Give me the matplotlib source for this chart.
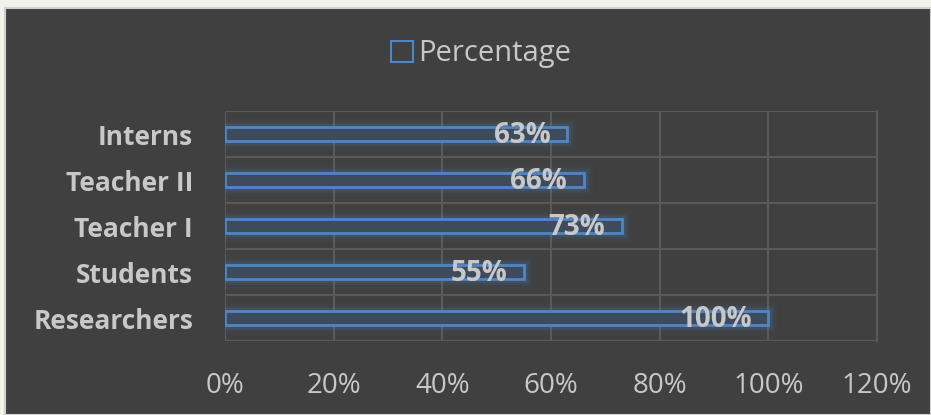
import matplotlib.pyplot as plt
from matplotlib.patches import Patch
from matplotlib.ticker import FuncFormatter

categories = ['Researchers', 'Students', 'Teacher I', 'Teacher II', 'Interns']
values = [100, 55, 73, 66, 63]
xticks = [0, 20, 40, 60, 80, 100, 120]

bg = '#404040'
grid = '#5a5a5a'
text_col = '#c8c8c8'
blue = '#4f86c6'

fig = plt.figure(figsize=(9.31, 4.15), dpi=100, facecolor='#f2f1ea')
# dark chart area with thin light border
fig.patches.append(plt.Rectangle((5 / 931, 0), 926 / 931, 1 - 8 / 415,
                                 transform=fig.transFigure, facecolor=bg,
                                 edgecolor='#d0d0d0', linewidth=1.5, zorder=-5))

ax = fig.add_axes([225 / 931, (415 - 341) / 415, (877 - 225) / 931, (341 - 111) / 415])
ax.patch.set_alpha(0)

y = range(len(categories))
# glow
for lw, a in [(12, 0.05), (8, 0.08), (5, 0.12)]:
    ax.barh(y, values, height=0.3, facecolor='none', edgecolor=blue,
            linewidth=lw, alpha=a, zorder=2)
ax.barh(y, values, height=0.3, facecolor='#3e4b5c', edgecolor=blue,
        linewidth=2, zorder=3)

for i, v in enumerate(values):
    ax.annotate(f'{v}%', (v, i), xytext=(-12, -1), textcoords='offset points',
                ha='right', va='center', fontsize=20, fontweight='bold',
                color=text_col, family='Open Sans', zorder=4)

ax.set_xlim(0, 120)
ax.set_ylim(-0.5, len(categories) - 0.5)
ax.set_xticks(xticks)
ax.xaxis.set_major_formatter(FuncFormatter(lambda x, p: f'{int(x)}%'))
ax.set_yticks(list(y))
ax.set_yticklabels(categories)
ax.set_yticks([i - 0.5 for i in range(len(categories) + 1)], minor=True)
ax.grid(True, axis='x', color=grid, linewidth=1.5, zorder=1)
ax.grid(True, axis='y', which='minor', color=grid, linewidth=1.5, zorder=1)
for s in ax.spines.values():
    s.set_visible(False)
ax.spines['right'].set_visible(True)
ax.spines['right'].set_color(grid)
ax.spines['right'].set_linewidth(1.5)
ax.tick_params(axis='both', which='both', length=0)
ax.tick_params(axis='x', colors=text_col, labelsize=20, pad=22)
ax.tick_params(axis='y', colors=text_col, labelsize=19, pad=23)
for t in ax.get_xticklabels():
    t.set_family('Open Sans')
for t in ax.get_yticklabels():
    t.set_family('Open Sans')
    t.set_fontweight('bold')

leg = fig.legend(handles=[Patch(facecolor='none', edgecolor=blue, linewidth=1.5, label='Percentage')],
                 loc='center', bbox_to_anchor=(481 / 931, 1 - 54 / 415), frameon=False,
                 prop={'family': 'Open Sans', 'size': 21}, handlelength=0.75, handleheight=0.75,
                 handletextpad=0.2)
for t in leg.get_texts():
    t.set_color(text_col)

fig.savefig('out.png', dpi=100, facecolor=fig.get_facecolor())
